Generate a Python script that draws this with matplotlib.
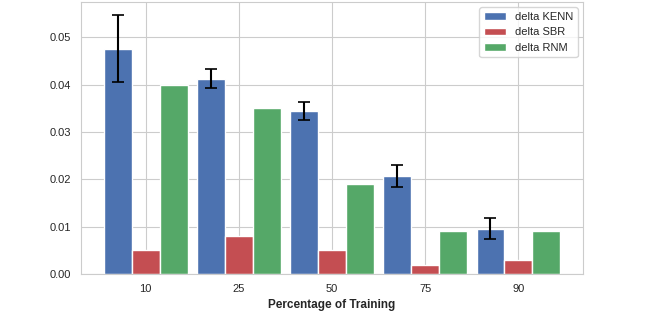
import numpy as np
import matplotlib
matplotlib.use("Agg")
import matplotlib.pyplot as plt
import seaborn as sns

percentages = ["10", "25", "50", "75", "90"]
delta_kenn = [0.0476, 0.0412, 0.0345, 0.0207, 0.0096]
kenn_err = [0.0071, 0.0020, 0.0019, 0.0024, 0.0023]
delta_sbr = [0.005, 0.008, 0.005, 0.002, 0.003]
delta_rnm = [0.040, 0.035, 0.019, 0.009, 0.009]

sns.set_style("whitegrid")
plt.rcParams['font.family'] = ['Liberation Sans', 'DejaVu Sans']

fig, ax = plt.subplots(figsize=(6.48, 3.19), dpi=100)
fig.subplots_adjust(left=0.125, right=0.9, top=0.994, bottom=0.141)

x = np.arange(len(percentages))
w = 0.3
ax.bar(x - w, delta_kenn, w, color="#4C72B0", edgecolor="white", label="delta KENN",
       yerr=kenn_err, error_kw=dict(ecolor="black", elinewidth=1.5, capsize=4, capthick=1.2))
ax.bar(x, delta_sbr, w, color="#C44E52", edgecolor="white", label="delta SBR")
ax.bar(x + w, delta_rnm, w, color="#55A868", edgecolor="white", label="delta RNM")

ax.set_xticks(x)
ax.set_xticklabels(percentages)
ax.tick_params(labelsize=8)
ax.set_xlabel("Percentage of Training", fontsize=8.5, fontweight="bold")
ax.legend(loc="upper right", fontsize=8)

fig.savefig("out.png")
